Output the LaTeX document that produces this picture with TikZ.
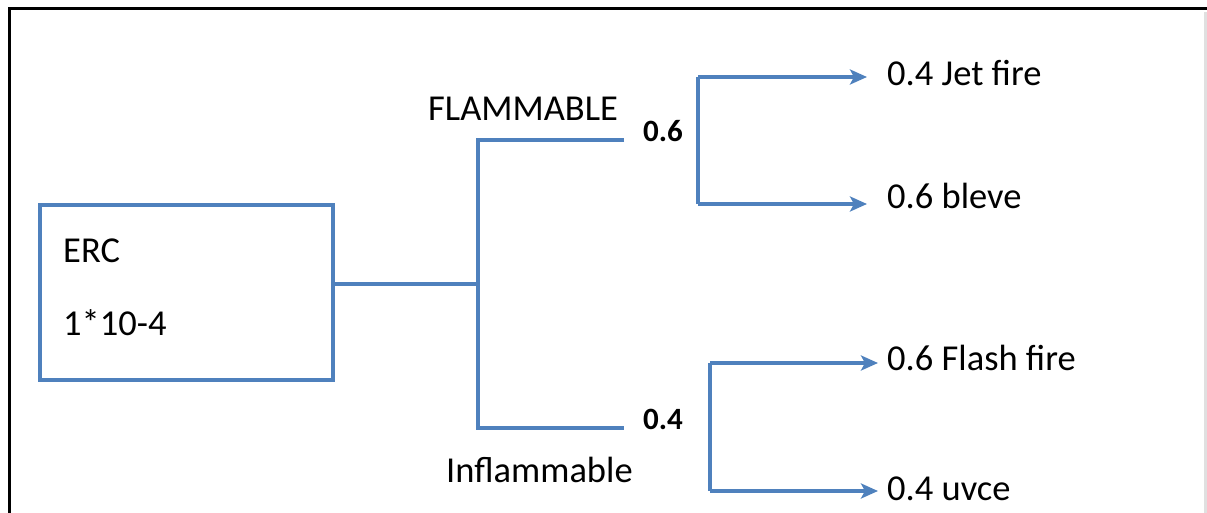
\documentclass[tikz,border=0pt]{standalone}
\usepackage{fontspec}
\setmainfont{Carlito}
\usetikzlibrary{arrows.meta}
\definecolor{obl}{RGB}{79,129,189}
\tikzset{
  conn/.style={draw=obl, line width=3.5pt},
  arr/.style={draw=obl, line width=3.5pt, -{Stealth[length=17pt,width=15pt,inset=4pt]}},
  lbl/.style={anchor=base west, inner sep=0pt, font=\fontsize{36.5}{40}\selectfont},
  prob/.style={anchor=base west, inner sep=0pt, font=\fontsize{31}{36}\selectfont\bfseries},
}
\begin{document}
\begin{tikzpicture}[x=1pt,y=-1pt]
\useasboundingbox (0,0) rectangle (1207,513);
% frame
\draw[black!12, line width=3pt] (1205,12) -- (1205,513);
\draw[black, line width=3pt] (1207,9) -- (9,9) -- (9,513);
% ERC box
\draw[obl, line width=4.5pt] (40,205) rectangle (333,380);
\node (boxr) at (333,284) [inner sep=0pt] {};
\node[lbl] (erc) at (63,262) {ERC};
\node[lbl] (val) at (63,335) {1*10-4};
% first branch
\coordinate (j1) at (478,284);
\coordinate (j1t) at (478,140);
\coordinate (j1b) at (478,428);
\coordinate (e1t) at (624,140);
\coordinate (e1b) at (624,428);
\draw[conn] (boxr.center) -- (j1);
\draw[conn] (e1t) -- (j1t) -- (j1b) -- (e1b);
\node[lbl] (flam) at (428,121) {FLAMMABLE};
\node[lbl] (infl) at (446,482) {Inflammable};
\node[prob] (p6) at (643,142) {0.6};
\node[prob] (p4) at (643,429) {0.4};
% upper branch
\coordinate (u1) at (698,77);
\coordinate (u2) at (698,204);
\node[lbl] (jet) at (887,86) {0.4 Jet fire};
\node[lbl] (bleve) at (887,209) {0.6 bleve};
\draw[conn] (u1) -- (u2);
\draw[arr, line width=4pt] (u1) -- ([xshift=-20pt]jet.west |- u1);
\draw[arr] (u2) -- ([xshift=-20pt]bleve.west |- u2);
% lower branch
\coordinate (l1) at (710,363);
\coordinate (l2) at (710,491);
\node[lbl] (flash) at (887,370) {0.6 Flash fire};
\node[lbl] (uvce) at (887,500) {0.4 uvce};
\draw[conn] (l1) -- (l2);
\draw[arr] (l1) -- ([xshift=-9pt]flash.west |- l1);
\draw[arr] (l2) -- ([xshift=-9pt]uvce.west |- l2);
\end{tikzpicture}
\end{document}
